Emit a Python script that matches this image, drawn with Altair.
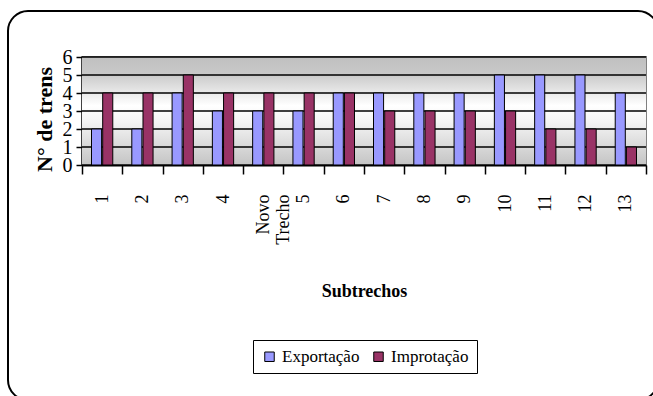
import altair as alt
import pandas as pd

categories = ["1", "2", "3", "4", "Novo Trecho", "5", "6", "7", "8", "9", "10", "11", "12", "13"]
exportacao = [2, 2, 4, 3, 3, 3, 4, 4, 4, 4, 5, 5, 5, 4]
improtacao = [4, 4, 5, 4, 4, 4, 4, 3, 3, 3, 3, 2, 2, 1]
series = ["Exportação", "Improtação"]
colors = ["#9999FF", "#993366"]
y_ticks = [0, 1, 2, 3, 4, 5, 6]

rows = []
for c, e, i in zip(categories, exportacao, improtacao):
    rows.append({"cat": c, "serie": series[0], "value": e})
    rows.append({"cat": c, "serie": series[1], "value": i})
df = pd.DataFrame(rows)
grid_df = pd.DataFrame({"value": y_ticks})
one = pd.DataFrame({"k": [0]})

W, H = 564, 108
FONT = "Liberation Serif"

yenc = alt.Y(
    "value:Q",
    scale=alt.Scale(domain=[0, 6], nice=False),
    axis=alt.Axis(
        values=y_ticks, grid=False, labelFont=FONT, labelFontSize=20, labelColor="black",
        labelOverlap=False, labelPadding=4, tickSize=6, tickColor="black", tickWidth=1.5,
        domainColor="black", domainWidth=2, title="N° de trens", titleFont=FONT,
        titleFontSize=22, titleFontWeight="bold", titleColor="black", titleAngle=270,
        titleX=-38, titleY=62, titleBaseline="middle", titleAlign="center",
    ),
)

frame = alt.Chart(one).mark_rect(
    fillOpacity=0, stroke="black", strokeWidth=2, cornerRadius=20
).encode(
    x=alt.value(8 - 82), x2=alt.value(658 - 82), y=alt.value(11 - 57), y2=alt.value(400 - 57)
)

grad = alt.Gradient(
    gradient="linear",
    stops=[
        alt.GradientStop(color="#c0c0c0", offset=0),
        alt.GradientStop(color="#c8c8c8", offset=0.15),
        alt.GradientStop(color="#ffffff", offset=0.45),
        alt.GradientStop(color="#f4f4f4", offset=0.6),
        alt.GradientStop(color="#c4c4c4", offset=1),
    ],
    x1=0, x2=0, y1=0, y2=1,
)
background = alt.Chart(one).mark_rect(color=grad).encode(
    x=alt.value(0), x2=alt.value(W), y=alt.value(0), y2=alt.value(H)
)

grid = alt.Chart(grid_df).mark_rule(color="black", strokeWidth=1.5).encode(y=yenc)

bars = alt.Chart(df).mark_bar(stroke="black", strokeWidth=1).encode(
    x=alt.X(
        "cat:N", sort=categories,
        scale=alt.Scale(paddingInner=0, paddingOuter=0),
        axis=alt.Axis(
            labelAngle=270, labelAlign="right", labelBaseline="middle", labelFont=FONT,
            labelFontSize=18, labelColor="black", labelPadding=20, labelOverlap=False,
            labelExpr="datum.value == 'Novo Trecho' ? ['Novo', 'Trecho'] : datum.value",
            labelLineHeight=20, tickBand="extent", tickSize=9, tickColor="black",
            tickWidth=1.5, domainColor="black", domainWidth=2, title="Subtrechos",
            titleFont=FONT, titleFontSize=18, titleFontWeight="bold", titleColor="black",
            titleY=126, titleBaseline="middle",
        ),
    ),
    xOffset=alt.XOffset("serie:N", sort=series, scale=alt.Scale(paddingInner=0.1, paddingOuter=0.85)),
    y=yenc,
    color=alt.Color(
        "serie:N", sort=series, scale=alt.Scale(domain=series, range=colors),
        legend=alt.Legend(
            orient="none", legendX=171, legendY=283, direction="horizontal", title=None,
            strokeColor="black", fillColor="white", padding=8, labelFont=FONT,
            labelFontSize=17, labelColor="black", symbolType="square", symbolSize=90,
            symbolStrokeColor="black", symbolStrokeWidth=1, columnPadding=10, labelOffset=4,
        ),
    ),
)

chart = alt.layer(frame, background, grid, bars).properties(
    width=W, height=H,
    autosize=alt.AutoSizeParams(type="none"),
    padding={"left": 82, "top": 57, "right": 7, "bottom": 231},
    background="white",
).configure_view(stroke="#808080", strokeWidth=2)

chart.save("out.html", embed_options={"renderer": "svg", "actions": False})
